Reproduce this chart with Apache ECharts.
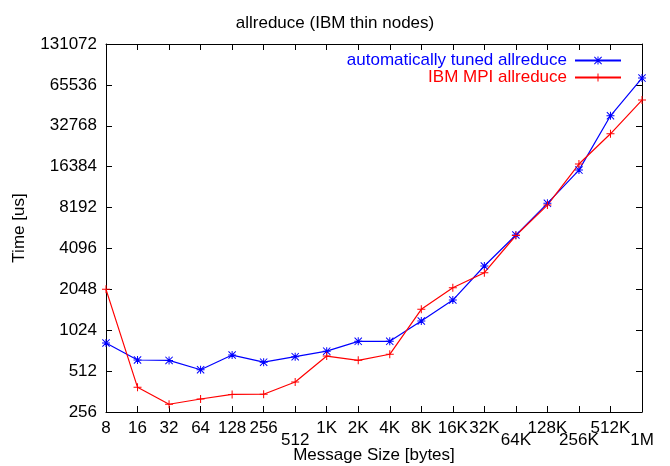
<!DOCTYPE html>
<html>
<head>
<meta charset="utf-8">
<script src="https://cdn.jsdelivr.net/npm/echarts@6/dist/echarts.min.js"></script>
<style>
  html, body { margin: 0; padding: 0; background: #fff; }
  #chart { width: 670px; height: 466px; }
</style>
</head>
<body>
<div id="chart"></div>
<script>
// message sizes (x categories)
const sizes = ['8', '16', '32', '64', '128', '256', '512', '1K', '2K', '4K',
    '8K', '16K', '32K', '64K', '128K', '256K', '512K', '1M']
// labels that gnuplot pushed down one half row
const lowered = ['512', '64K', '256K', '1M']

// time [us]
const tunedAllreduce = [824, 618, 614, 524, 672, 596, 654, 718, 848, 848,
    1197, 1708, 3040, 5140, 8800, 15460, 38830, 73500]
const ibmAllreduce = [2048, 389, 292, 319, 345, 346, 426, 661, 615, 681,
    1460, 2104, 2716, 5100, 8540, 17130, 28600, 50640]

const yMin = 256, yMax = 131072

// gnuplot point types
const plusPath = 'path://M7,0H9V7H16V9H9V16H7V9H0V7H7Z'
const starPath = 'path://M7,0H9V7H16V9H9V16H7V9H0V7H7Z' +
    'M0,1.4L1.4,0L16,14.6L14.6,16Z' +
    'M14.6,0L16,1.4L1.4,16L0,14.6Z'

const font = "'Liberation Sans', Arial, sans-serif"
const fs = 17

const myChart = echarts.init(document.getElementById('chart'))
myChart.setOption({
    animation: false,
    textStyle: { fontFamily: font, color: '#000' },
    title: {
        text: 'allreduce (IBM thin nodes)',
        left: 'center',
        top: 10,
        textStyle: { fontFamily: font, fontSize: fs, fontWeight: 'normal', color: '#000' }
    },
    grid: { left: 106, right: 28, top: 44, bottom: 54, outerBoundsMode: 'none' },
    legend: {
        orient: 'vertical',
        right: 43,
        top: 47,
        align: 'right',
        itemWidth: 46,
        itemHeight: 10,
        itemGap: 0,
        textStyle: { fontFamily: font, fontSize: fs, padding: [0, 3, 0, 0] },
        data: [
            { name: 'automatically tuned allreduce', textStyle: { color: '#0000ff' } },
            { name: 'IBM MPI allreduce', textStyle: { color: '#ff0000' } }
        ]
    },
    xAxis: [
        {
            type: 'category',
            data: sizes,
            boundaryGap: false,
            name: 'Message Size [bytes]',
            nameLocation: 'middle',
            nameGap: 35,
            nameMoveOverlap: false,
            nameTextStyle: { fontFamily: font, fontSize: fs, color: '#000' },
            axisLine: { lineStyle: { color: '#000', width: 1 } },
            axisTick: { inside: true, length: 6, interval: 0, lineStyle: { color: '#000' } },
            axisLabel: {
                interval: 0,
                margin: 8,
                fontSize: fs,
                color: '#000',
                fontFamily: font,
                formatter: v => lowered.includes(v) ? '{lo|' + v + '}' : v,
                rich: { lo: { fontSize: fs, fontFamily: font, color: '#000', padding: [12, 0, 0, 0] } }
            },
            splitLine: { show: false }
        },
        {
            type: 'category',
            data: sizes,
            boundaryGap: false,
            position: 'top',
            axisLine: { lineStyle: { color: '#000', width: 1 } },
            axisTick: { inside: true, length: 6, interval: 0, lineStyle: { color: '#000' } },
            axisLabel: { show: false },
            splitLine: { show: false }
        }
    ],
    yAxis: [
        {
            type: 'log',
            logBase: 2,
            min: yMin,
            max: yMax,
            interval: 1,
            name: 'Time [us]',
            nameLocation: 'middle',
            nameGap: 78,
            nameMoveOverlap: false,
            nameTextStyle: { fontFamily: font, fontSize: fs, color: '#000' },
            axisLine: { show: true, lineStyle: { color: '#000', width: 1 } },
            axisTick: { show: true, inside: true, length: 6, lineStyle: { color: '#000' } },
            axisLabel: {
                margin: 9,
                fontSize: fs,
                color: '#000',
                fontFamily: font,
                formatter: v => String(Math.round(v))
            },
            splitLine: { show: false }
        },
        {
            type: 'log',
            logBase: 2,
            min: yMin,
            max: yMax,
            interval: 1,
            position: 'right',
            axisLine: { show: true, lineStyle: { color: '#000', width: 1 } },
            axisTick: { show: true, inside: true, length: 6, lineStyle: { color: '#000' } },
            axisLabel: { show: false },
            splitLine: { show: false }
        }
    ],
    series: [
        {
            name: 'automatically tuned allreduce',
            type: 'line',
            data: tunedAllreduce,
            color: '#0000ff',
            symbol: starPath,
            symbolSize: 8,
            showAllSymbol: true,
            lineStyle: { width: 1.2, color: '#0000ff' },
            itemStyle: { color: '#0000ff' }
        },
        {
            name: 'IBM MPI allreduce',
            type: 'line',
            data: ibmAllreduce,
            color: '#ff0000',
            symbol: plusPath,
            symbolSize: 8,
            showAllSymbol: true,
            lineStyle: { width: 1.2, color: '#ff0000' },
            itemStyle: { color: '#ff0000' }
        }
    ]
})
window.addEventListener('resize', myChart.resize)
</script>
</body>
</html>
